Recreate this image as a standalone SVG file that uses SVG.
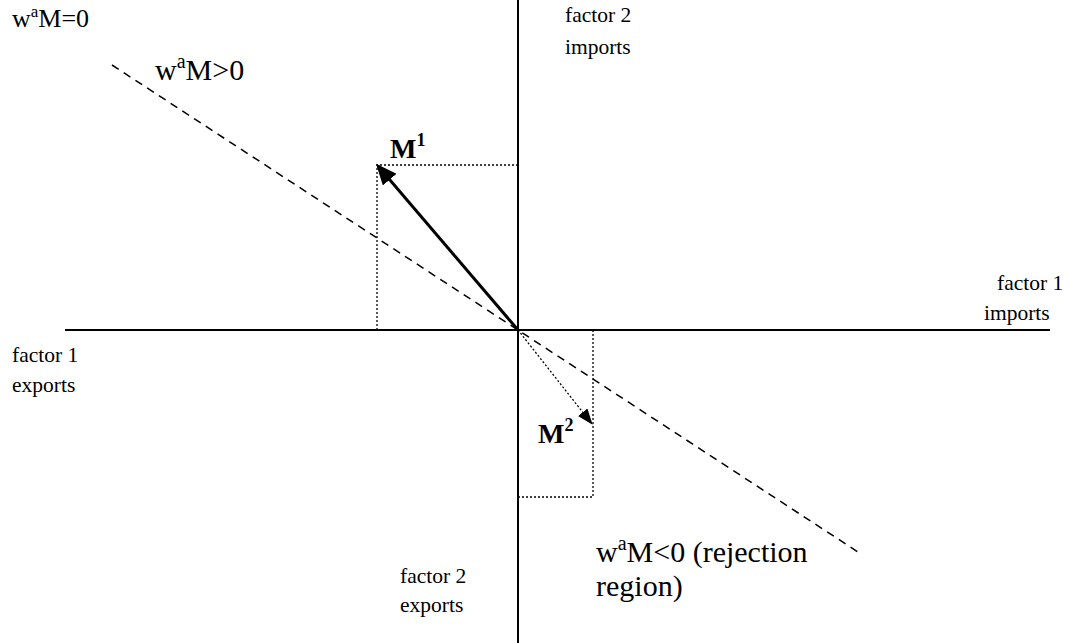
<svg xmlns="http://www.w3.org/2000/svg" width="1086" height="643" viewBox="0 0 1086 643">
<style>
text{font-family:"Liberation Serif","Times New Roman",serif;fill:#000}
.t{font-size:21.5px}
.s{font-size:26px}
.b{font-size:30px}
.m{font-size:28px;font-weight:bold}
.axis{stroke:#000;stroke-width:2;fill:none}
.dash{stroke:#000;stroke-width:1.5;stroke-dasharray:8,6;fill:none}
.dot{stroke:#000;stroke-width:1.3;stroke-dasharray:2,2;fill:none}
</style>
<defs>
<marker id="ah" markerWidth="7" markerHeight="6" refX="6" refY="3" orient="auto" markerUnits="strokeWidth">
<path d="M0,0 L7,3 L0,6 z" fill="#000"/>
</marker>
<marker id="ah2" markerWidth="16" markerHeight="12" refX="15" refY="6" orient="auto" markerUnits="userSpaceOnUse">
<path d="M0,0 L16,6 L0,12 z" fill="#000"/>
</marker>
</defs>
<g id="connectors">
<line class="axis" x1="518" y1="0" x2="518" y2="643"/>
<line class="axis" x1="65" y1="330" x2="1050" y2="330"/>
<line class="dash" x1="112" y1="65" x2="858" y2="552"/>
<polyline class="dot" points="518,165 377,165 377,330"/>
<polyline class="dot" points="593,330 593,497 518,497"/>
<line x1="518" y1="330" x2="378" y2="166" stroke="#000" stroke-width="3" marker-end="url(#ah)"/>
<line x1="518" y1="330" x2="592" y2="424" class="dot" marker-end="url(#ah2)"/>
</g>
<g id="label-wM0"><text class="s" x="12" y="27">w<tspan dy="-10" font-size="17">a</tspan><tspan dy="10">M=0</tspan></text></g>
<g id="label-wMpos"><text class="b" x="155" y="80">w<tspan dy="-12" font-size="20">a</tspan><tspan dy="12">M&gt;0</tspan></text></g>
<g id="label-f2imp"><text class="t" x="565" y="22">factor 2</text><text class="t" x="565" y="54">imports</text></g>
<g id="label-M1"><text class="m" x="390" y="158">M<tspan dy="-12" font-size="18">1</tspan></text></g>
<g id="label-f1exp"><text class="t" x="12" y="362">factor 1</text><text class="t" x="12" y="392">exports</text></g>
<g id="label-f1imp"><text class="t" x="997" y="290">factor 1</text><text class="t" x="984" y="320">imports</text></g>
<g id="label-M2"><text class="m" x="538" y="443">M<tspan dy="-12" font-size="18">2</tspan></text></g>
<g id="label-wMneg"><text class="b" x="596" y="562">w<tspan dy="-12" font-size="20">a</tspan><tspan dy="12">M&lt;0 (rejection</tspan></text><text class="b" x="596" y="596">region)</text></g>
<g id="label-f2exp"><text class="t" x="400" y="583">factor 2</text><text class="t" x="400" y="612">exports</text></g>
</svg>
